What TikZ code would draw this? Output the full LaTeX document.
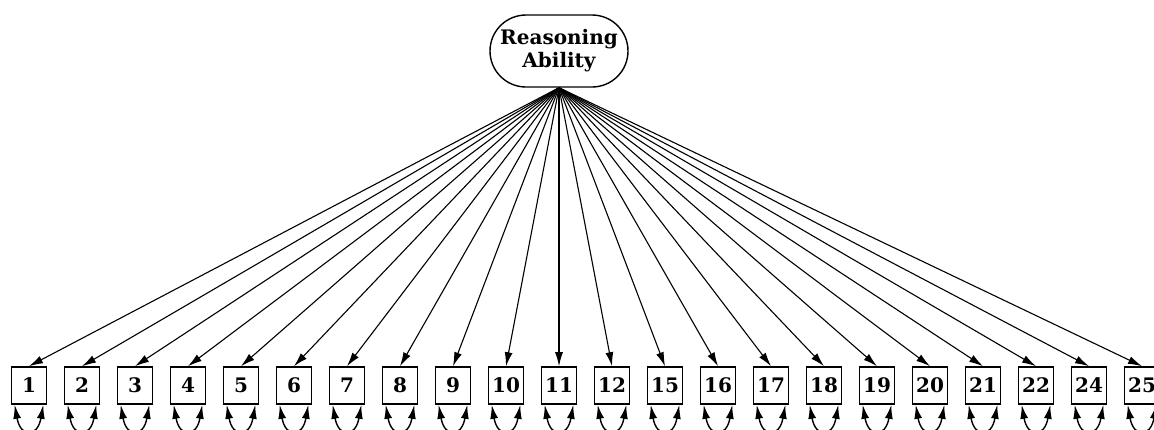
\documentclass[tikz,border=0pt]{standalone}
\usepackage{fontspec}
\setmainfont{DejaVu Serif}
\usetikzlibrary{shapes.misc,arrows.meta}
\tikzset{
	item/.style = {draw, line width=0.8pt, minimum width=17.5pt, minimum height=18.5pt, inner sep=0pt, font=\fontsize{10}{11}\selectfont\bfseries},
	load/.style = {-{Latex[length=7pt,width=4pt]}, line width=0.55pt},
	resid/.style = {{Latex[length=7pt,width=4pt]}-{Latex[length=7pt,width=4pt]}, line width=0.7pt}
}
\begin{document}
\begin{tikzpicture}[x = 0.5pt, y = -0.5pt]
	\clip (0,0) rectangle (1154,429);
	\useasboundingbox (0,0) rectangle (1154,429);
	\node [draw, rounded rectangle, line width=0.7pt, minimum width=71pt, minimum height=36pt, align=center, inner sep=1pt,
		font=\fontsize{10}{11.5}\selectfont\bfseries] (ability) at (559,51) {Reasoning\\Ability};
	\foreach \lab [count = \i] in {1,2,3,4,5,6,7,8,9,10,11,12,15,16,17,18,19,20,21,22,24,25}{
	\node [item] (v\i) at ({29+53*(\i-1)},385.5) {\lab};
	\draw [load] (ability.south) -- (v\i.north);
	\draw [resid] ([xshift=2pt]v\i.south west) to [out=-80, in=-100, looseness=3] ([xshift=-2pt]v\i.south east);
	}
\end{tikzpicture}
\end{document}
